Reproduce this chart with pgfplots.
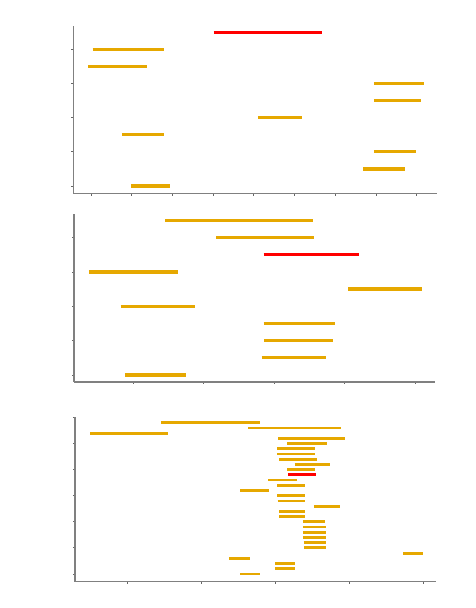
\documentclass[border=0pt]{standalone}
\usepackage{pgfplots}
\pgfplotsset{compat=1.18}
\definecolor{barorange}{HTML}{E6A800}
\definecolor{barred}{HTML}{FF0000}
\definecolor{axgray}{HTML}{808080}

\pgfplotsset{
  segpanel/.style={
    scale only axis,
    anchor=south west,
    axis x line*=bottom,
    axis y line*=left,
    axis line style={axgray, line width=1.6pt},
    tick align=outside,
    major tick length=2pt,
    tick style={black!60, line width=0.8pt},
    xticklabels={}, yticklabels={},
    unbounded coords=jump,
    clip=false,
  },
  seg/.style={barorange, line width=#1, line cap=butt, mark=none},
  hot/.style={barred, line width=#1, line cap=butt, mark=none},
}

\begin{document}
\begin{tikzpicture}
\path[use as bounding box] (0,0) rectangle (476pt,608pt);

% top panel
\begin{axis}[segpanel, at={(73.3pt,414.3pt)}, width=363.4pt, height=167.7pt,
  xmin=-0.434, xmax=8.49, ymin=-0.45, ymax=9.36,
  xtick={0,...,8}, ytick={0,2,4,6,8}]
\addplot[seg=3.3pt] table {
x y
0.04 8
1.80 8
nan nan
-0.07 7
1.38 7
nan nan
6.95 6
8.18 6
nan nan
6.95 5
8.11 5
nan nan
4.10 4
5.18 4
nan nan
0.76 3
1.80 3
nan nan
6.95 2
7.99 2
nan nan
6.69 1
7.72 1
nan nan
0.98 0
1.94 0
};
\addplot[hot=3.3pt] table {
x y
3.01 9
5.67 9
};
\end{axis}

% middle panel
\begin{axis}[segpanel, at={(74pt,226pt)}, width=361pt, height=167.7pt,
  xmin=-0.843, xmax=4.284, ymin=-0.41, ymax=9.36,
  xtick={0,...,4}, ytick={0,2,4,6,8}]
\addplot[seg=3.3pt] table {
x y
0.45 9
2.55 9
nan nan
1.18 8
2.56 8
nan nan
-0.63 6
0.63 6
nan nan
3.05 5
4.10 5
nan nan
-0.18 4
0.88 4
nan nan
1.85 3
2.87 3
nan nan
1.86 2
2.84 2
nan nan
1.82 1
2.74 1
nan nan
-0.12 0
0.75 0
};
\addplot[hot=3.3pt] table {
x y
1.85 7
3.21 7
};
\end{axis}

% bottom panel
\begin{axis}[segpanel, at={(75pt,26.3pt)}, width=360.7pt, height=165pt,
  xmin=-0.713, xmax=4.167, ymin=-1.48, ymax=30.15,
  xtick={0,...,4}, ytick={0,5,...,30}]
\addplot[seg=2.8pt] table {
x y
1.52 0
1.79 0
nan nan
1.99 1
2.27 1
nan nan
1.99 2
2.27 2
nan nan
1.37 3
1.66 3
nan nan
3.73 4
4.00 4
nan nan
2.39 5
2.68 5
nan nan
2.38 6
2.68 6
nan nan
2.37 7
2.68 7
nan nan
2.37 8
2.68 8
nan nan
2.37 9
2.68 9
nan nan
2.37 10
2.67 10
nan nan
2.05 11
2.40 11
nan nan
2.05 12
2.40 12
nan nan
2.52 13
2.87 13
nan nan
2.03 14
2.40 14
nan nan
2.02 15
2.40 15
nan nan
1.52 16
1.91 16
nan nan
2.02 17
2.40 17
nan nan
1.90 18
2.29 18
nan nan
2.16 20
2.54 20
nan nan
2.26 21
2.74 21
nan nan
2.05 22
2.56 22
nan nan
2.02 23
2.54 23
nan nan
2.02 24
2.54 24
nan nan
2.16 25
2.69 25
nan nan
2.04 26
2.94 26
nan nan
-0.51 27
0.54 27
nan nan
1.63 28
2.88 28
nan nan
0.45 29
1.79 29
};
\addplot[hot=2.8pt] table {
x y
2.17 19
2.55 19
};
\end{axis}
\end{tikzpicture}
\end{document}
